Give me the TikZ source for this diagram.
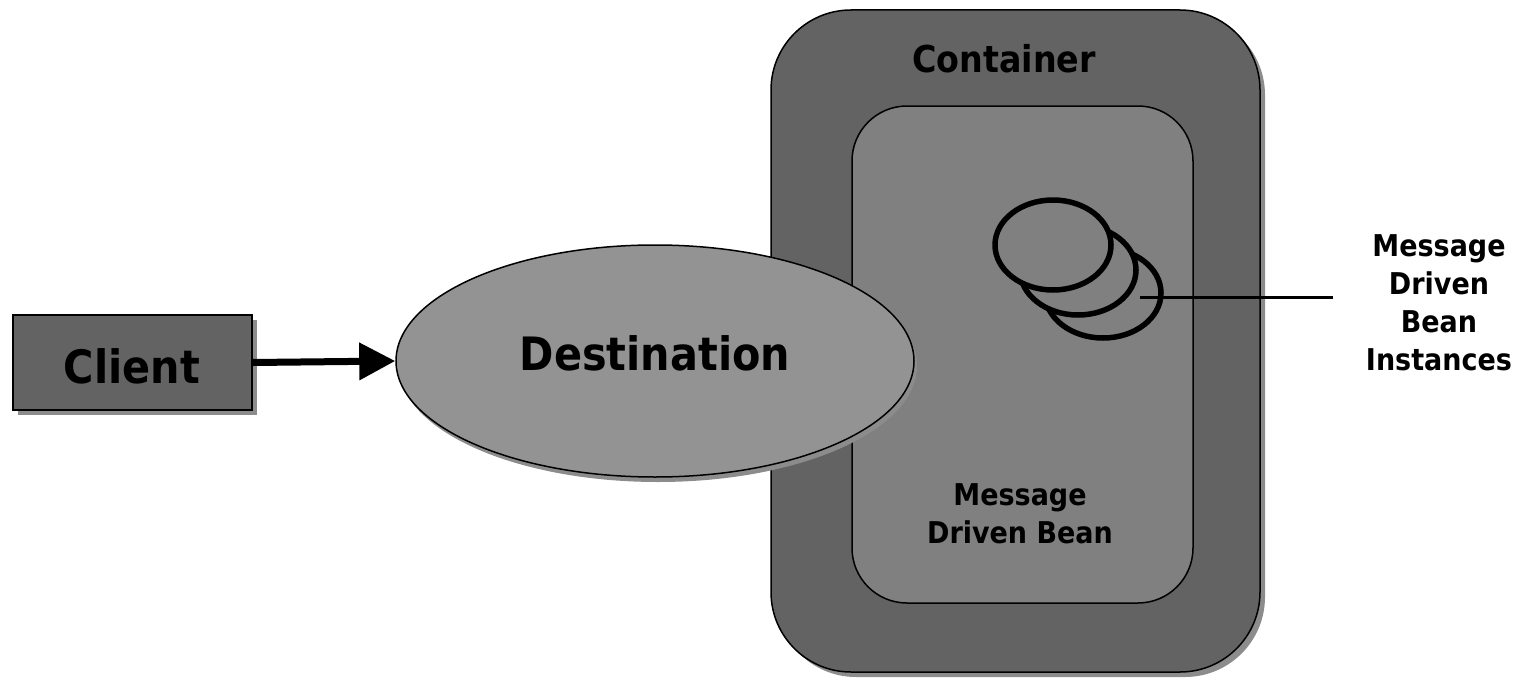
\documentclass[tikz,border=0pt]{standalone}
\usepackage{fontspec}
\setmainfont{DejaVu Sans Condensed}
\usetikzlibrary{shapes.geometric,arrows.meta}
\definecolor{darkfill}{HTML}{636363}
\definecolor{midfill}{HTML}{808080}
\definecolor{lightfill}{HTML}{939393}
\definecolor{shadowgrey}{HTML}{8C8C8C}
\begin{document}
\begin{tikzpicture}[x=1pt,y=-1pt,
  lbl/.style={font=\bfseries\fontsize{30}{38}\selectfont,align=center,inner sep=0pt,anchor=base},
  bean/.style={ellipse,draw=black,line width=5.5pt,fill=midfill,minimum width=116pt,minimum height=90pt,inner sep=0pt}]
\useasboundingbox (0,0) rectangle (1532,685);
% container
\fill[shadowgrey,rounded corners=80pt] (776,15) rectangle (1265,677);
\node[draw=black,line width=1.5pt,fill=darkfill,rounded corners=80pt,minimum width=489pt,minimum height=662pt,inner sep=0pt] (cont) at (1015.5,341) {};
\node[draw=black,line width=1.5pt,fill=midfill,rounded corners=55pt,minimum width=341pt,minimum height=497pt,inner sep=0pt] (inner) at (1022.5,354.5) {};
\node[font=\bfseries\fontsize{37}{40}\selectfont,inner sep=0pt,anchor=base] (ctext) at (1004,73) {Container};
\node[lbl] (mdb) at (1020,543) {Message\\Driven Bean};
% beans
\node[bean] (b3) at (1103,293) {};
\node[bean] (b2) at (1078,270) {};
\node[bean] (b1) at (1053,245) {};
\coordinate (lend) at (1333,297);
\draw[line width=3pt] ([xshift=37pt,yshift=-4pt]b3.center) -- (lend);
\node[lbl] (inst) at (1439,370) {Message\\Driven\\Bean\\Instances};
% destination
\fill[shadowgrey] (658,366) ellipse [x radius=259pt,y radius=116pt];
\node[ellipse,draw=black,line width=1.5pt,fill=lightfill,minimum width=518pt,minimum height=232pt,inner sep=0pt] (dest) at (655,361) {};
\node[font=\bfseries\fontsize{46}{50}\selectfont,inner sep=0pt,anchor=base] (dtext) at (655,370) {Destination};
% client
\fill[shadowgrey] (18,320) rectangle (257,415);
\node[draw=black,line width=2pt,fill=darkfill,minimum width=239pt,minimum height=95pt,inner sep=0pt] (client) at (132.5,362.5) {};
\node[font=\bfseries\fontsize{46}{50}\selectfont,inner sep=0pt,anchor=base] (ctxt) at (132,383) {Client};
\draw[line width=7pt,-{Triangle[length=36pt,width=36pt]}] (client.east) -- (dest.west);
\end{tikzpicture}
\end{document}
